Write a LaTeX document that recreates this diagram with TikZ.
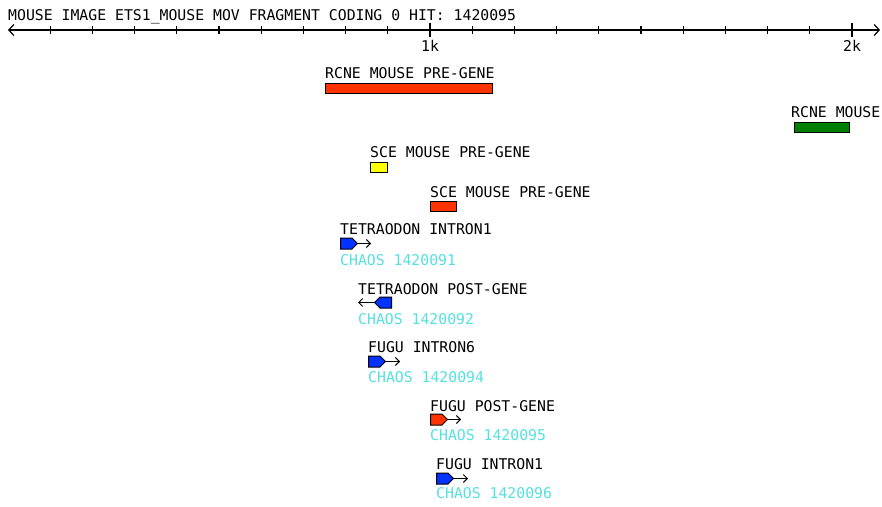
\documentclass[tikz,border=0pt]{standalone}
\usepackage{fontspec}
\setmonofont{DejaVu Sans Mono}
\usetikzlibrary{arrows.meta,shapes.symbols}
\definecolor{gnred}{RGB}{255,51,0}
\definecolor{gnblue}{RGB}{0,51,255}
\definecolor{gngreen}{RGB}{0,128,0}
\definecolor{gnyellow}{RGB}{255,255,0}
\definecolor{gncyan}{RGB}{85,224,224}
\tikzset{
  lbl/.style={anchor=base west, inner sep=0, font=\fontsize{14.8}{18}\selectfont\ttfamily},
  hitlbl/.style={lbl, text=gncyan},
  axlbl/.style={lbl, anchor=base},
  featbox/.style={draw, line width=1.2pt, anchor=north west, inner sep=0, minimum height=10pt},
  glyph/.style={draw, signal, signal to=#1, line width=1pt, inner sep=0, minimum width=17pt, minimum height=11pt, fill=gnblue},
  axis/.style={line width=1.2pt, {Straight Barb[length=5pt,width=11pt]}-{Straight Barb[length=5pt,width=11pt]}},
  tick/.style={line width=1.2pt},
  strand/.style={line width=1pt, -{Straight Barb[length=4pt,width=8pt]}}
}
\begin{document}
\begin{tikzpicture}[x=1pt,y=-1pt]
  \useasboundingbox (0,0) rectangle (882,506);
  % ruler
  \node[lbl] (title) at (8,20) {MOUSE IMAGE ETS1\_MOUSE MOV FRAGMENT CODING 0 HIT: 1420095};
  \coordinate (axl) at (8,30);
  \coordinate (axr) at (880,30);
  \draw[axis] (axl) -- (axr);
  \foreach \k in {1,...,20} {\draw[tick] ({8+42.2*\k},26) -- ++(0,8);}
  \foreach \k/\t in {10/1k,20/2k} {
    \draw[tick] ({8+42.2*\k},23) -- ++(0,14);
    \node[axlbl] (tick\k) at ({8+42.2*\k},51) {\t};
  }
  % boxes
  \node[lbl] (rcnepre) at (325,78) {RCNE MOUSE PRE-GENE};
  \node[featbox, fill=gnred, minimum width=167pt] (rcnepreb) at (325,82.5) {};
  \node[lbl] (rcne) at (791,117) {RCNE MOUSE};
  \node[featbox, fill=gngreen, minimum width=55pt] (rcneb) at (794,121.5) {};
  \node[lbl] (scea) at (370,157) {SCE MOUSE PRE-GENE};
  \node[featbox, fill=gnyellow, minimum width=17pt] (sceab) at (370,161.5) {};
  \node[lbl] (sceb) at (430,197) {SCE MOUSE PRE-GENE};
  \node[featbox, fill=gnred, minimum width=26pt] (scebb) at (430,200.5) {};
  % hits
  \node[lbl] (tetra1) at (340,234) {TETRAODON INTRON1};
  \node[glyph=east, anchor=west] (tetra1g) at (340,243.5) {};
  \coordinate (tetra1e) at (371,243.5);
  \draw[strand] (tetra1g.east) -- (tetra1e);
  \node[hitlbl] (tetra1h) at (340,265) {CHAOS 1420091};
  \node[lbl] (tetra2) at (358,294) {TETRAODON POST-GENE};
  \node[glyph=west, anchor=east] (tetra2g) at (392,302.5) {};
  \coordinate (tetra2e) at (358,302.5);
  \draw[strand] (tetra2g.west) -- (tetra2e);
  \node[hitlbl] (tetra2h) at (358,324) {CHAOS 1420092};
  \node[lbl] (fugu6) at (368,352) {FUGU INTRON6};
  \node[glyph=east, anchor=west] (fugu6g) at (368,361.5) {};
  \coordinate (fugu6e) at (400,361.5);
  \draw[strand] (fugu6g.east) -- (fugu6e);
  \node[hitlbl] (fugu6h) at (368,382) {CHAOS 1420094};
  \node[lbl] (fugup) at (430,411) {FUGU POST-GENE};
  \node[glyph=east, anchor=west, fill=gnred] (fugupg) at (430,419.5) {};
  \coordinate (fugupe) at (461,419.5);
  \draw[strand] (fugupg.east) -- (fugupe);
  \node[hitlbl] (fuguph) at (430,440) {CHAOS 1420095};
  \node[lbl] (fugu1) at (436,469) {FUGU INTRON1};
  \node[glyph=east, anchor=west] (fugu1g) at (436,478.5) {};
  \coordinate (fugu1e) at (468,478.5);
  \draw[strand] (fugu1g.east) -- (fugu1e);
  \node[hitlbl] (fugu1h) at (436,498) {CHAOS 1420096};
\end{tikzpicture}
\end{document}
